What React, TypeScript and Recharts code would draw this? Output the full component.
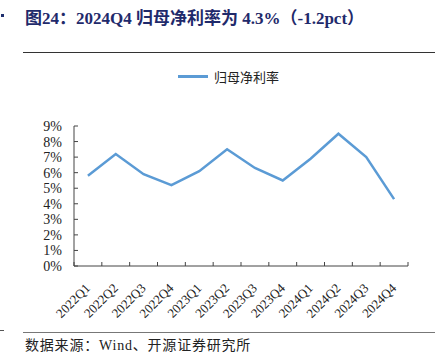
import React from "react";
import { LineChart, Line, XAxis, YAxis, Legend } from "recharts";

const categories = ["2022Q1","2022Q2","2022Q3","2022Q4","2023Q1","2023Q2","2023Q3","2023Q4","2024Q1","2024Q2","2024Q3","2024Q4"];
const netMargin = [5.8, 7.2, 5.9, 5.2, 6.1, 7.5, 6.3, 5.5, 6.9, 8.5, 7.0, 4.3];
const yTicks = [0, 1, 2, 3, 4, 5, 6, 7, 8, 9];
const seriesName = "归母净利率";
const title = "图24：2024Q4 归母净利率为 4.3%（-1.2pct）";
const source = "数据来源：Wind、开源证券研究所";

const data = categories.map((c, i) => ({ cat: c, v: netMargin[i] }));

const W = 443, H = 357;
const LEFT = 74, RIGHT = 35, TOP = 106, XH = 60, BOTTOM = 31;
const band = (W - LEFT - RIGHT) / categories.length;
const serif = "'Liberation Serif', 'Times New Roman', 'Noto Sans CJK SC', serif";

const YTick = (props: any) => {
  const { x, y, payload } = props;
  const ax = x + 8;
  return (
    <g>
      <line x1={ax} x2={ax + 4} y1={y} y2={y} stroke="#444" strokeWidth={1} />
      <text x={x - 4} y={y} dy={5} textAnchor="end" fontSize={14} fontFamily={serif} fill="#222">
        {payload.value}%
      </text>
    </g>
  );
};

const XTick = (props: any) => {
  const { x, y, payload, index } = props;
  const ay = y - 8;
  const tx = x + 3;
  const ty = y + 15;
  return (
    <g>
      <line x1={x - band / 2} x2={x - band / 2} y1={ay} y2={ay - 4} stroke="#444" strokeWidth={1} />
      {index === categories.length - 1 && (
        <line x1={x + band / 2} x2={x + band / 2} y1={ay} y2={ay - 4} stroke="#444" strokeWidth={1} />
      )}
      <text x={tx} y={ty} transform={`rotate(-45, ${tx}, ${ty})`} textAnchor="end" fontSize={13} fontFamily={serif} fill="#222">
        {payload.value}
      </text>
    </g>
  );
};

const LegendContent = () => (
  <div style={{ display: "flex", alignItems: "center", position: "absolute", left: 178, top: 0 }}>
    <div style={{ width: 30, height: 3, background: "#5B9BD5" }} />
    <span style={{ marginLeft: 6, fontSize: 13, fontFamily: "'Noto Sans CJK SC', sans-serif", color: "#222" }}>{seriesName}</span>
  </div>
);

export default function App() {
  return (
    <div style={{ position: "absolute", left: 0, top: 0, width: W, height: H, background: "#fff" }}>
      <div style={{ position: "absolute", left: 1, top: 14, width: 3, height: 3, background: "#1F2F6E" }} />
      <div style={{ position: "absolute", left: 25, top: 4, fontSize: 17, fontWeight: "bold", color: "#1F2A6B", fontFamily: serif, whiteSpace: "nowrap" }}>
        {title}
      </div>
      <div style={{ position: "absolute", left: 23, top: 52, width: 412, height: 1, background: "#333" }} />
      <LineChart width={W} height={H} data={data} margin={{ top: TOP, right: RIGHT, left: 0, bottom: BOTTOM }}>
        <Legend verticalAlign="top" content={<LegendContent />} wrapperStyle={{ position: "absolute", top: 67, left: 0, width: W, height: 20 }} />
        <XAxis dataKey="cat" height={XH} interval={0} padding={{ left: band / 2, right: band / 2 }} tick={<XTick />} tickLine={false} axisLine={{ stroke: "#444" }} />
        <YAxis width={LEFT} domain={[0, 9]} ticks={yTicks} interval={0} tick={<YTick />} tickLine={false} axisLine={{ stroke: "#444" }} />
        <Line type="linear" dataKey="v" name={seriesName} stroke="#5B9BD5" strokeWidth={2.5} dot={false} isAnimationActive={false} />
      </LineChart>
      <div style={{ position: "absolute", left: 0, top: 330, width: 4, height: 1, background: "#555" }} />
      <div style={{ position: "absolute", left: 23, top: 332, width: 412, height: 1, background: "#777" }} />
      <div style={{ position: "absolute", left: 25, top: 334, fontSize: 14, letterSpacing: 0.8, color: "#222", fontFamily: "'Liberation Serif', 'Noto Sans CJK SC', serif", whiteSpace: "nowrap" }}>
        {source}
      </div>
    </div>
  );
}
